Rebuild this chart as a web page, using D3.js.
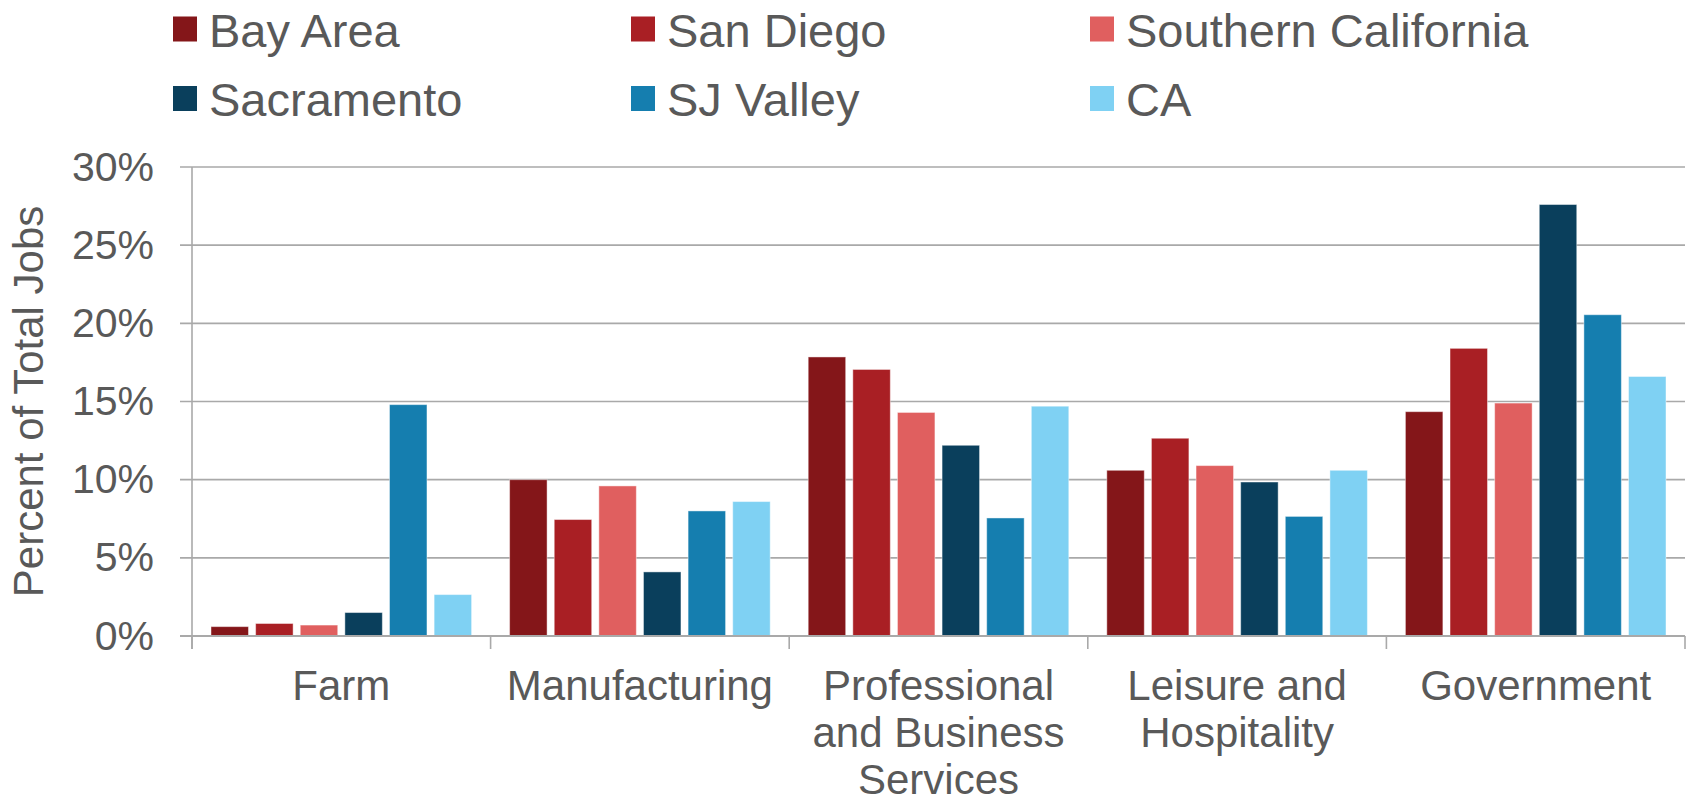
<!DOCTYPE html>
<html>
<head>
<meta charset="utf-8">
<script src="https://cdn.jsdelivr.net/npm/d3@7/dist/d3.min.js"></script>
<style>
  html, body { margin: 0; padding: 0; background: #fff; }
  svg { display: block; font-family: "Liberation Sans", Arial, sans-serif; }
</style>
</head>
<body>
<svg id="chart" width="1692" height="805"></svg>
<script>
const categories = ["Farm", "Manufacturing", "Professional and Business Services", "Leisure and Hospitality", "Government"];
const seriesNames = ["Bay Area", "San Diego", "Southern California", "Sacramento", "SJ Valley", "CA"];
const seriesColors = ["#841619", "#A91F24", "#E05F5F", "#0A3F5C", "#157EAF", "#7FD1F3"];
// values per series, in category order (percent of total jobs)
const bayArea    = [0.6, 10.0, 17.85, 10.6, 14.35];
const sanDiego   = [0.8, 7.45, 17.05, 12.65, 18.4];
const southernCA = [0.7, 9.6, 14.3, 10.9, 14.9];
const sacramento = [1.5, 4.1, 12.2, 9.85, 27.6];
const sjValley   = [14.8, 8.0, 7.55, 7.65, 20.55];
const caState    = [2.65, 8.6, 14.7, 10.6, 16.6];
const yTicks = [0, 5, 10, 15, 20, 25, 30];
const yTitle = "Percent of Total Jobs";

const seriesValues = [bayArea, sanDiego, southernCA, sacramento, sjValley, caState];

const svg = d3.select("#chart");
const textColor = "#595959";
const gridColor = "#a9a9a9";

const plotLeft = 192, plotRight = 1685, plotTop = 167, plotBottom = 636;

const x0 = d3.scaleBand().domain(categories).range([plotLeft, plotRight]).paddingInner(0).paddingOuter(0);
const groupInset = 19;
const x1 = d3.scaleBand().domain(seriesNames).range([groupInset, x0.bandwidth() - groupInset]).paddingInner(0.16).paddingOuter(0);
const y = d3.scaleLinear().domain([0, 30]).range([plotBottom, plotTop]);

// gridlines (extend left past axis as tick marks)
svg.append("g").selectAll("line").data(yTicks).join("line")
  .attr("x1", plotLeft - 12).attr("x2", plotRight)
  .attr("y1", d => y(d)).attr("y2", d => y(d))
  .attr("stroke", gridColor).attr("stroke-width", 1.6);

// y axis labels
const yAxis = d3.axisLeft(y).tickValues(yTicks).tickFormat(d => d + "%").tickSize(12).tickPadding(26);
const yg = svg.append("g").attr("transform", `translate(${plotLeft},0)`).call(yAxis);
yg.select(".domain").remove();
yg.selectAll(".tick line").remove();
yg.selectAll(".tick text").attr("fill", textColor).style("font-size", "41px")
  .style("font-family", '"Liberation Sans", Arial, sans-serif');

// bars
const data = [];
categories.forEach((c, ci) => {
  seriesNames.forEach((s, si) => data.push({ cat: c, series: s, value: seriesValues[si][ci], color: seriesColors[si] }));
});
svg.append("g").selectAll("rect").data(data).join("rect")
  .attr("x", d => x0(d.cat) + x1(d.series))
  .attr("width", x1.bandwidth())
  .attr("y", d => y(d.value))
  .attr("height", d => y(0) - y(d.value))
  .attr("fill", d => d.color)
  .attr("stroke", "#ffffff").attr("stroke-opacity", 0.45).attr("stroke-width", 1);

// axis lines
svg.append("line").attr("x1", plotLeft).attr("x2", plotLeft).attr("y1", plotTop).attr("y2", plotBottom + 13)
  .attr("stroke", gridColor).attr("stroke-width", 1.6);
svg.append("line").attr("x1", plotLeft - 12).attr("x2", plotRight).attr("y1", plotBottom).attr("y2", plotBottom)
  .attr("stroke", gridColor).attr("stroke-width", 2);
// category boundary ticks
const bounds = categories.map(c => x0(c)).concat([x0(categories[categories.length - 1]) + x0.bandwidth()]);
svg.append("g").selectAll("line").data(bounds).join("line")
  .attr("x1", d => d).attr("x2", d => d)
  .attr("y1", plotBottom).attr("y2", plotBottom + 13)
  .attr("stroke", gridColor).attr("stroke-width", 1.6);

// x axis labels (wrapped)
const xAxis = d3.axisBottom(x0).tickSize(0).tickPadding(0);
const xg = svg.append("g").attr("transform", `translate(0,${plotBottom})`).call(xAxis);
xg.select(".domain").remove();
xg.selectAll(".tick text").attr("fill", textColor).style("font-size", "42px")
  .style("font-family", '"Liberation Sans", Arial, sans-serif')
  .attr("dy", null).attr("y", 0)
  .each(function(d) {
    const t = d3.select(this);
    const words = d.split(" ");
    t.text(null);
    const maxW = 290;
    let line = [];
    let lines = [];
    const probe = t.append("tspan");
    words.forEach(w => {
      const test = line.concat([w]).join(" ");
      probe.text(test);
      if (probe.node().getComputedTextLength() > maxW && line.length) {
        lines.push(line.join(" "));
        line = [w];
      } else {
        line.push(w);
      }
    });
    lines.push(line.join(" "));
    probe.remove();
    lines.forEach((l, i) => {
      t.append("tspan").attr("x", 0).attr("y", 64 + i * 47).text(l);
    });
  });

// y title
svg.append("text")
  .attr("transform", `translate(43,${(205 + 598) / 2}) rotate(-90)`)
  .attr("text-anchor", "middle")
  .attr("fill", textColor).style("font-size", "42px")
  .text(yTitle);

// legend
const legendX = [173, 631, 1090];
const legendY = [46.5, 116];
const lg = svg.append("g").selectAll("g").data(seriesNames).join("g")
  .attr("transform", (d, i) => `translate(${legendX[i % 3]},${legendY[Math.floor(i / 3)]})`);
lg.append("rect").attr("x", 0).attr("y", -30).attr("width", 24).attr("height", 25)
  .attr("fill", (d, i) => seriesColors[i]);
lg.append("text").attr("x", 36).attr("y", 0).attr("fill", textColor).style("font-size", "47px").text(d => d);
</script>
</body>
</html>
